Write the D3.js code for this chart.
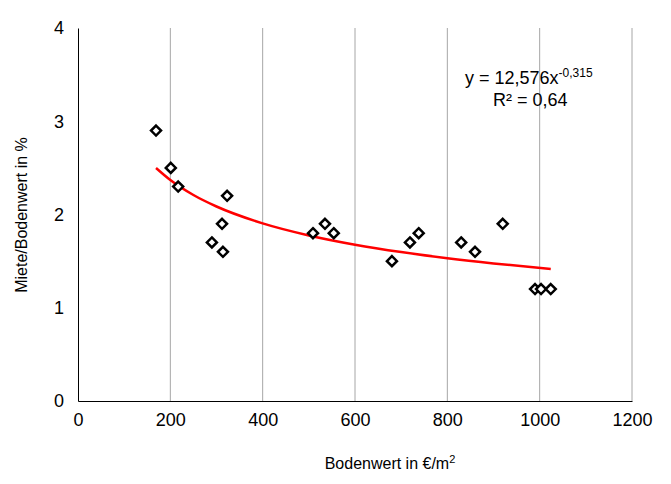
<!DOCTYPE html>
<html><head><meta charset="utf-8">
<script src="https://cdn.jsdelivr.net/npm/d3@7"></script>
<style>body{margin:0;background:#fff}text{font-family:"Liberation Sans",Arial,sans-serif}</style>
</head><body>
<svg id="chart" width="671" height="484"></svg>
<script>
var bodenwert = [169,201,217,323,312,290,314,509,535,554,680,719,738,830,860,920,990,1003,1024];
var rendite   = [2.9,2.5,2.3,2.2,1.9,1.7,1.6,1.8,1.9,1.8,1.5,1.7,1.8,1.7,1.6,1.9,1.2,1.2,1.2];
var xTicks = [0,200,400,600,800,1000,1200];
var yTicks = [0,1,2,3,4];
// trendline y = 12,576 x^-0,315 (Excel power fit), sampled at its drawn x values
var trendX = [169,200,250,300,400,500,600,700,800,900,1024];
var trendA = 12.576, trendB = -0.315;

var svg = d3.select("#chart");
var x = d3.scaleLinear().domain([0,1200]).range([78,632]);
var y = d3.scaleLinear().domain([0,4]).range([401,28]);

svg.selectAll(".grid").data(xTicks.slice(1)).enter().append("line")
  .attr("x1", d => x(d)).attr("x2", d => x(d)).attr("y1", y(0)).attr("y2", y(4))
  .attr("stroke", "#a6a6a6").attr("stroke-width", 1);

var xa = svg.append("g").attr("transform", "translate(0,401)")
  .call(d3.axisBottom(x).tickValues(xTicks).tickSize(0).tickPadding(12).tickFormat(d3.format("d")));
var ya = svg.append("g").attr("transform", "translate(78,0)")
  .call(d3.axisLeft(y).tickValues(yTicks).tickSize(0).tickPadding(14).tickFormat(d3.format("d")));
[xa, ya].forEach(a => {
  a.attr("font-size", null).attr("font-family", null);
  a.select(".domain").attr("stroke", "#000");
  a.selectAll("text").style("font-size", "18px").attr("fill", "#000");
});

var line = d3.line().curve(d3.curveMonotoneX).x(d => x(d)).y(d => y(trendA * Math.pow(d, trendB)));
svg.append("path").datum(trendX).attr("d", line).attr("fill", "none")
  .attr("stroke", "#ff0000").attr("stroke-width", 2.5);

svg.selectAll(".pt").data(bodenwert).enter().append("path")
  .attr("transform", (d, i) => `translate(${x(d)},${y(rendite[i])})`)
  .attr("d", "M0,-5L5,0L0,5L-5,0Z").attr("fill", "#fff").attr("stroke", "#000").attr("stroke-width", 2.5);

svg.append("text").attr("x", 390).attr("y", 469).attr("text-anchor", "middle").style("font-size", "16px")
  .html('Bodenwert in €/m<tspan dy="-6" style="font-size:11px">2</tspan>');
svg.append("text").attr("transform", "translate(27,215) rotate(-90)").attr("text-anchor", "middle")
  .style("font-size", "16px").text("Miete/Bodenwert in %");
svg.append("text").attr("x", 465).attr("y", 84).style("font-size", "18px")
  .html('y = 12,576x<tspan dy="-7" style="font-size:12px">-0,315</tspan>');
svg.append("text").attr("x", 493).attr("y", 106).style("font-size", "18px").text("R² = 0,64");
</script>
</body></html>
